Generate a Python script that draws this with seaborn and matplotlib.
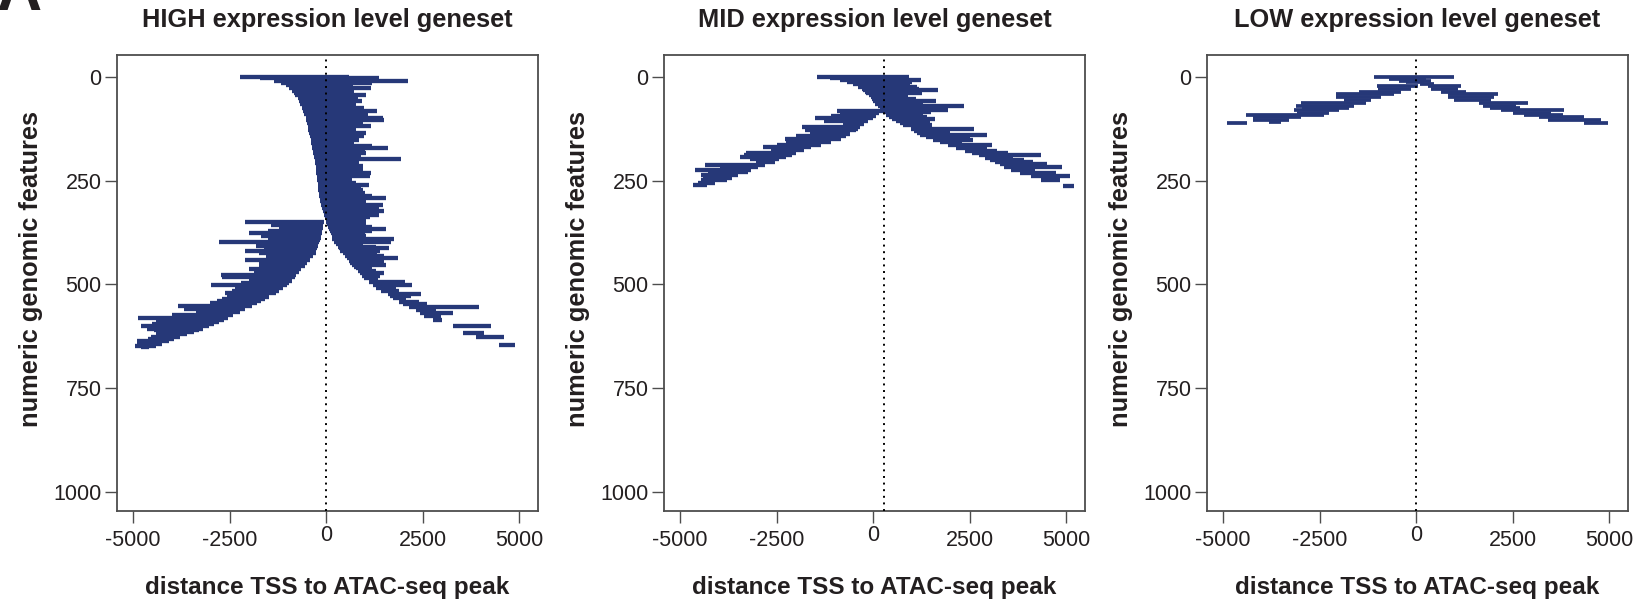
import numpy as np
import pandas as pd
import matplotlib
matplotlib.use("Agg")
import matplotlib.pyplot as plt
import seaborn as sns

# ---------------- data ----------------
panel_titles = ["HIGH expression level geneset", "MID expression level geneset", "LOW expression level geneset"]
x_label = "distance TSS to ATAC-seq peak"
y_label = "numeric genomic features"
x_ticks = [-5000, -2500, 0, 2500, 5000]
y_ticks = [0, 250, 500, 750, 1000]
tss_line = [0, 270, 0]

# HIGH geneset: feature row, peak start, peak end (distance to TSS)
high_rows = [1, 3, 9, 14, 19, 26, 33, 39, 44, 51, 59, 65, 75, 83, 89, 99, 105, 111, 119, 127,
             135, 143, 151, 159, 167, 171, 177, 183, 189, 194, 199, 207, 215, 223, 232, 240, 248,
             256, 261, 266, 272, 280, 286, 292, 300, 308, 316, 324, 332, 338, 344,
             351, 357, 365, 371, 377, 383, 389, 394, 399, 407, 413, 419, 425, 433, 441, 449, 456,
             464, 470, 478, 483, 491, 497, 502, 510, 516, 521, 530, 535, 540, 546, 552, 560, 566,
             574, 581, 586, 590, 595, 600, 607, 611, 615, 621, 627, 632, 637, 643, 648, 651,
             349, 355, 362, 367, 372, 377, 383, 391, 399, 404, 409, 413, 419, 425, 431, 437, 444,
             449, 453, 458, 462, 468, 474, 480, 486, 494, 502, 509, 516, 524, 529, 534, 542, 548,
             554, 562, 570, 576, 586, 601, 618, 628, 646]
high_start = [-2240, -1700, -1350, -1180, -1040, -950, -880, -840, -800, -740, -700, -665, -620,
              -590, -565, -527, -515, -500, -480, -460, -435, -415, -400, -385, -370, -360, -345,
              -330, -320, -310, -300, -290, -275, -262, -250, -240, -232, -222, -215, -208, -200,
              -190, -180, -170, -156, -130, -105, -78, -45, -20, -5,
              -2100, -1430, -1210, -1500, -2005, -1685, -1340, -1500, -2775, -1815, -1600, -2090,
              -1740, -1560, -2090, -1740, -1740, -2000, -1870, -2730, -2690, -2000, -2200, -2970,
              -2360, -2450, -2620, -2560, -2700, -2820, -3000, -3830, -3680, -3380, -3980, -4865,
              -4400, -4260, -4500, -4805, -4630, -4450, -4330, -4400, -4546, -4600, -4891, -4900,
              -4952, -4805,
              0, 20, 60, 85, 100, 120, 145, 164, 200, 250, 294, 320, 370, 424, 480, 536, 580, 630,
              665, 720, 769, 820, 873, 930, 985, 1097, 1201, 1300, 1417, 1590, 1650, 1720, 1893,
              2000, 2135, 2325, 2437, 2541, 2757, 3276, 3535, 3881, 4486]
high_end = [600, 1370, 2110, 1200, 700, 1170, 730, 580, 1020, 820, 930, 780, 990, 1310, 1080,
            1470, 1510, 950, 1170, 780, 1020, 990, 850, 730, 1180, 1590, 1000, 1040, 900, 510,
            1940, 860, 950, 950, 1160, 1130, 680, 780, 1100, 900, 950, 1010, 1200, 1540, 1040,
            1470, 1380, 1510, 1380, 1140, 1040,
            -50, -70, -90, -105, -120, -130, -140, -160, -175, -210, -230, -250, -270, -340, -415,
            -485, -560, -655, -700, -770, -805, -890, -960, -1020, -1130, -1220, -1300, -1490,
            -1590, -1690, -1800, -1925, -2095, -2230, -2400, -2540, -2650, -2775, -2900, -3030,
            -3200, -3300, -3420, -3600, -3780, -3930, -4070, -4250, -4410, -4590,
            1040, 1037, 1200, 1546, 1200, 994, 1020, 1764, 1676, 951, 1300, 1616, 1400, 1313,
            1500, 1850, 1510, 1400, 1546, 1200, 1037, 1300, 1510, 1400, 1331, 2040, 2221, 1800,
            1893, 2454, 2200, 2065, 2411, 2600, 3967, 2843, 3276, 2973, 2999, 4270, 4098, 4599,
            4893]

# MID geneset
mid_rows = [1, 3, 7, 11, 17, 23, 28, 31, 36, 39, 44, 49, 54, 59, 65, 71, 76, 80, 85,
            91, 96, 101, 106, 111, 117, 125, 131, 135, 139, 145, 151, 157, 165, 171, 179, 184,
            189, 195, 200, 205, 211, 217, 224, 232, 240, 248, 262,
            81, 87, 93, 99, 107, 113, 121, 125, 129, 137, 143, 149, 157, 163, 169, 175, 183, 188,
            194, 199, 205, 213, 217, 224, 229, 237, 243, 248, 256, 261]
mid_start = [-1450, -1120, -850, -680, -520, -380, -300, -260, -200, -173, -110, -60, -30, 0, 60,
             120, 170, 220, 260,
             320, 400, 480, 580, 690, 780, 980, 1070, 1140, 1209, 1380, 1555, 1720, 1930, 2140,
             2380, 2550, 2730, 2900, 3020, 3150, 3280, 3400, 3560, 3800, 4090, 4350, 4925,
             -930, -864, -1100, -1513, -1279, -778, -1833, -1700, -1772, -1642, -2000, -2290,
             -2247, -2500, -2852, -2636, -3285, -3350, -3458, -3198, -3026, -4365, -3976, -4624,
             -4278, -4451, -4400, -4451, -4538, -4668]
mid_end = [930, 780, 1250, 1000, 950, 1140, 1200, 1685, 1000, 1270, 900, 750, 1100, 1640, 1300,
           2350, 1800, 1945, 1500,
           1296, 1400, 1598, 1400, 1469, 1512, 2611, 1642, 2000, 2956, 2500, 2593, 2291, 3068,
           2939, 3198, 3500, 4348, 3631, 3900, 4149, 4500, 4884, 4192, 4737, 5100, 4841, 5213,
           259, 150, 80, 0, -130, -230, -330, -390, -450, -600, -700, -830, -1100, -1350, -1600,
           -1780, -1990, -2100, -2250, -2450, -2540, -2800, -2980, -3150, -3250, -3500, -3650,
           -3780, -4100, -4300]

# LOW geneset
low_rows = [1, 5, 9, 13, 17, 21, 21, 29, 29, 36, 36, 41, 41, 48, 48, 55, 55, 63, 63, 69, 69,
            74, 75, 80, 80, 86, 86, 91, 91, 97, 97, 104, 104, 108, 112, 112]
low_start = [-1090, -700, -450, -250, 100, -1010, 294, -1000, 380, -1470, 650, -2080, 812, -2080,
             812, -1867, 985, -2990, 1634, -3120, 1720, -2950, 1900, -3164, 2195, -3077, 2500,
             -4400, 2800, -4217, 3189, -4217, 3405, -3800, -4910, 4356]
low_end = [985, 250, 380, 200, 470, 35, 1158, -140, 1072, -400, 1300, -570, 2109, -916, 2023,
           -1176, 1936, -1300, 2887, -1608, 2584, -1750, 2700, -2000, 3838, -2256, 3500, -2386,
           3812, -2991, 4356, -3300, 4788, -3509, -4373, 4960]

panels = [(high_rows, high_start, high_end), (mid_rows, mid_start, mid_end), (low_rows, low_start, low_end)]

# ---------------- style ----------------
sns.set_theme(style="ticks")
plt.rcParams["font.family"] = ["Liberation Sans", "DejaVu Sans"]
text_col = "#231f20"
navy = "#263878"
frame_col = "#4d4d4d"
seg_width = [3.1, 3.1, 2.7]

fig = plt.figure(figsize=(16.39, 6.0), dpi=100)
W, H = 1639.0, 600.0
lefts = [117, 664, 1207]
box_w, box_top, box_bot = 421, 55, 511

for i, ((rows, st, en), title) in enumerate(zip(panels, panel_titles)):
    ax = fig.add_axes([lefts[i] / W, 1 - box_bot / H, box_w / W, (box_bot - box_top) / H])
    n = len(rows)
    df = pd.DataFrame({
        "x": list(st) + list(en),
        "row": list(rows) + list(rows),
        "seg": list(range(n)) + list(range(n)),
        "ord": [0] * n + [1] * n,
    }).sort_values(["seg", "ord"])
    sns.lineplot(data=df, x="x", y="row", units="seg", estimator=None, sort=False,
                 color=navy, linewidth=seg_width[i], solid_capstyle="butt", legend=False, ax=ax)
    ax.axvline(tss_line[i], color="black", linestyle=(0, (1, 2.4)), linewidth=1.4, zorder=3)

    ax.set_xlim(-5415, 5485)
    ax.set_ylim(1047, -53)
    ax.set_xticks(x_ticks, labels=[str(v) for v in x_ticks])
    ax.set_yticks(y_ticks, labels=[str(v) for v in y_ticks])
    for sp in ax.spines.values():
        sp.set_visible(True)
        sp.set_color(frame_col)
        sp.set_linewidth(1.3)
    ax.tick_params(axis="both", direction="out", length=8.6, width=1.0, color=frame_col,
                   labelsize=15.5, labelcolor=text_col)
    ax.tick_params(axis="x", pad=5)
    ax.tick_params(axis="y", pad=2.4)
    for lbl in ax.get_xticklabels():
        if lbl.get_text() == "0":
            lbl.set_y(5 / (box_bot - box_top))

    ax.set_title(title, fontsize=18.3, fontweight="bold", color=text_col, pad=20)
    ax.set_xlabel(x_label, fontsize=17.5, fontweight="bold", color=text_col)
    ax.xaxis.label.set_va("top")
    ax.xaxis.set_label_coords(0.5, -0.1425)
    ax.set_ylabel(y_label, fontsize=18.3, fontweight="bold", color=text_col)
    ax.yaxis.set_label_coords(-0.175, 0.53)

fig.text(-0.002, 1 - 10 / H, "A", fontsize=45, fontweight="bold", color=text_col,
         ha="left", va="baseline")

fig.savefig("out.png", dpi=100)
